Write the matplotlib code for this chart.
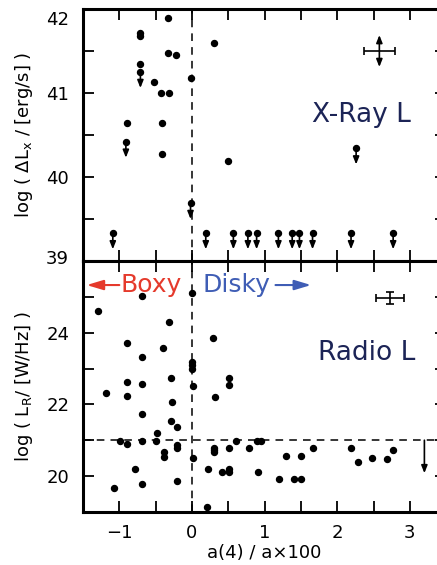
import matplotlib
matplotlib.use("Agg")
import matplotlib.pyplot as plt
import matplotlib.transforms as mtransforms

# X-ray: detections
xr_a4 = [-0.33, -0.72, -0.72, -0.33, -0.22, -0.72, -0.52, -0.02, -0.43, -0.32,
         -0.90, -0.41, -0.41, 0.30, 0.50]
xr_lx = [41.89, 41.72, 41.68, 41.48, 41.45, 41.35, 41.13, 41.18, 41.00, 41.00,
         40.64, 40.64, 40.27, 41.60, 40.19]

# X-ray: upper limits
xr_lim_a4 = [-0.71, -0.91, -0.02, -1.09, 0.19, 0.57, 0.77, 0.89, 1.19, 1.38,
             1.48, 1.66, 2.19, 2.77, 2.26]
xr_lim_lx = [41.25, 40.42, 39.69, 39.33, 39.33, 39.33, 39.33, 39.33, 39.33, 39.33,
             39.33, 39.33, 39.33, 39.33, 40.34]

# radio
rd_a4 = [-1.30, -0.69, 0.00, -0.31, -0.90, -0.40, -0.69, 0.00, 0.00, 0.00,
         0.29, -1.19, -0.90, -0.90, -0.69, -0.29, 0.01, 0.32, -0.28, -0.69,
         -0.29, -0.20, -0.48, -0.99, -0.89, -0.69, -0.50, -0.39, -0.39, -0.20,
         -0.20, 0.01, 0.30, 0.30, 0.30, -0.78, 0.22, -1.08, -0.69, -0.21,
         0.21, 0.51, 0.51, 0.51, 0.60, 0.79, 0.90, 0.95, 0.42, 0.51,
         0.51, 0.91, 1.20, 1.40, 1.50, 1.30, 1.50, 1.66, 2.19, 2.28,
         2.48, 2.68, 2.77]
rd_lr = [24.61, 25.03, 25.10, 24.31, 23.70, 23.58, 23.31, 23.19, 23.09, 22.99,
         23.86, 22.31, 22.63, 22.23, 22.56, 22.73, 22.51, 22.21, 22.08, 21.72,
         21.54, 21.38, 21.19, 20.99, 20.89, 20.98, 20.99, 20.68, 20.54, 20.86,
         20.77, 20.49, 20.79, 20.73, 20.66, 20.20, 20.19, 19.68, 19.77, 19.86,
         19.14, 22.73, 22.54, 20.79, 20.98, 20.79, 20.99, 20.99, 20.10, 20.21,
         20.10, 20.10, 19.92, 19.92, 19.92, 20.57, 20.57, 20.77, 20.77, 20.40,
         20.51, 20.47, 20.73]

rd_lim_a4 = [3.20]
rd_lim_lr = [21.0]

lr_cut = 21.0

fig = plt.figure(figsize=(4.37, 5.65), dpi=100)
ax1 = fig.add_axes([0.190, 0.538, 0.831, 0.446])
ax2 = fig.add_axes([0.190, 0.094, 0.831, 0.444])

navy = "#1c2456"
kw_tick = dict(direction="in", length=8, width=1.3, labelsize=13,
               top=True, right=True)
lim_arrow = dict(arrowstyle="-|>,head_width=0.18,head_length=0.45",
                 color="k", lw=1.2, shrinkA=0, shrinkB=0)

for ax in (ax1, ax2):
    for s in ax.spines.values():
        s.set_linewidth(2.2)
    ax.set_xlim(-1.5, 3.5)
    ax.set_xticks([-1, 0, 1, 2, 3])
    ax.set_xticks([-1.5, -0.5, 0.5, 1.5, 2.5], minor=True)
    ax.tick_params(which="both", **kw_tick)
    ax.tick_params(axis="y", which="major", pad=10)
    ax.tick_params(axis="x", which="major", pad=9)
    ax.axvline(0, color="k", lw=1.1, ls=(0, (5, 4)))

# top panel
ax1.set_ylim(39, 42)
ax1.set_yticks([39, 40, 41, 42])
ax1.set_yticks([39.5, 40.5, 41.5], minor=True)
ax1.tick_params(axis="x", labelbottom=False)
ax1.plot(xr_a4, xr_lx, "o", color="k", ms=4.3)
ax1.plot(xr_lim_a4, xr_lim_lx, "o", color="k", ms=4.3)
for x, y in zip(xr_lim_a4, xr_lim_lx):
    ax1.annotate("", xy=(x, y - 0.19), xytext=(x, y), arrowprops=lim_arrow)
# typical error
ax1.errorbar([2.58], [41.5], xerr=[0.21], color="k", lw=1.2, capsize=3, capthick=1.2)
ax1.annotate("", xy=(2.58, 41.31), xytext=(2.58, 41.69),
             arrowprops=dict(arrowstyle="<|-|>,head_width=0.18,head_length=0.45",
                             color="k", lw=1.2, shrinkA=0, shrinkB=0))
ax1.text(2.34, 40.74, "X-Ray L", color=navy, fontsize=19, ha="center", va="center")
ax1.set_ylabel("log ( $\\Delta$L$_\\mathregular{x}$ / [erg/s] )", fontsize=13, labelpad=8)

# end labels sit inside the frame
lab = ax1.get_yticklabels()
lab[-1].set_transform(lab[-1].get_transform() +
                      mtransforms.ScaledTranslation(0, -9 / 100, fig.dpi_scale_trans))
lab[0].set_transform(lab[0].get_transform() +
                     mtransforms.ScaledTranslation(0, 4 / 100, fig.dpi_scale_trans))

# bottom panel
ax2.set_ylim(19, 26)
ax2.set_yticks([20, 22, 24])
ax2.set_yticks([21, 23, 25], minor=True)
ax2.axhline(lr_cut, color="k", lw=1.1, ls=(0, (5, 4)))
ax2.plot(rd_a4, rd_lr, "o", color="k", ms=4.3)
for x, y in zip(rd_lim_a4, rd_lim_lr):
    ax2.annotate("", xy=(x, y - 0.92), xytext=(x, y), arrowprops=lim_arrow)
ax2.errorbar([2.73], [24.96], xerr=[0.19], yerr=[0.17], color="k", lw=1.2,
             capsize=3, capthick=1.2)
ax2.text(2.41, 23.44, "Radio L", color=navy, fontsize=19, ha="center", va="center")
ax2.text(-0.98, 25.33, "Boxy", color="#e53a2c", fontsize=18, ha="left", va="center")
ax2.annotate("", xy=(-1.45, 25.33), xytext=(-1.0, 25.33),
             arrowprops=dict(arrowstyle="-|>,head_width=0.3,head_length=1.0",
                             color="#e53a2c", lw=1.5, shrinkA=0, shrinkB=0))
ax2.text(0.14, 25.33, "Disky", color="#3f5db5", fontsize=18, ha="left", va="center")
ax2.annotate("", xy=(1.64, 25.33), xytext=(1.15, 25.33),
             arrowprops=dict(arrowstyle="-|>,head_width=0.3,head_length=1.0",
                             color="#3f5db5", lw=1.5, shrinkA=0, shrinkB=0))
ax2.set_ylabel("log ( L$_\\mathregular{R}$/ [W/Hz] )", fontsize=13, labelpad=8)
ax2.set_xlabel("a(4) / a\u00d7100", fontsize=13, labelpad=1)

fig.savefig("out.png", dpi=100)
